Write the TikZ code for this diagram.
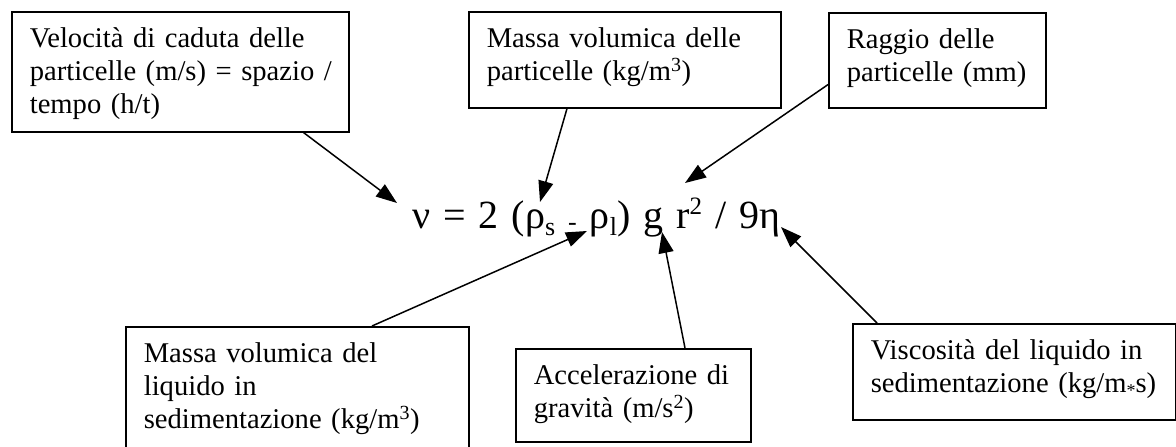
\documentclass[tikz,border=0pt]{standalone}
\usepackage{fontspec}
\setmainfont{Liberation Serif}
\usetikzlibrary{arrows.meta}

\newcommand{\lowtxt}[1]{\raisebox{-7pt}{\fontsize{26}{26}\selectfont #1}}
\newcommand{\hightxt}[1]{\raisebox{14pt}{\fontsize{25}{25}\selectfont #1}}
\newcommand{\eqfont}{\fontsize{40}{44}\selectfont\spaceskip 13pt\relax}

\begin{document}
\begin{tikzpicture}[
    x=1pt, y=-1pt,
    box/.style={rectangle, draw, line width=1.6pt, anchor=north west,
                inner xsep=18pt, inner ysep=0pt, align=left, text height=36pt,
                font=\fontsize{28.6}{33}\selectfont},
    formula/.style={inner sep=0pt, anchor=base west, font=\eqfont},
    arrow/.style={-{Triangle[length=21pt, width=15pt]}, line width=1.5pt}
  ]
    \useasboundingbox (0,0) rectangle (1176,447);
    \clip (0,0) rectangle (1176,447);

    \node[box, text width=301pt, text depth=84pt] (vel) at (11,11)
      {\mbox{Velocità di caduta delle}\\\mbox{particelle (m/s) = spazio /}\\\mbox{tempo (h/t)}};
    \node[box, text width=276pt, text depth=60pt] (mpart) at (468,11)
      {Massa volumica delle\\particelle (kg/m\textsuperscript{3})};
    \node[box, text width=181pt, text depth=59pt] (raggio) at (828,12)
      {\mbox{Raggio delle}\\\mbox{particelle (mm)}};
    \node[box, text width=307pt, text depth=92pt] (mliq) at (125,326)
      {Massa volumica del\\liquido in\\sedimentazione (kg/m\textsuperscript{3})};
    \node[box, text width=199pt, text depth=57pt] (acc) at (515,348)
      {\mbox{Accelerazione di}\\gravità (m/s\textsuperscript{2})};
    \node[box, text width=287pt, text depth=60pt] (visc) at (852,323)
      {\mbox{Viscosità del liquido in}\\\mbox{sedimentazione (kg/m\raisebox{-4pt}{\fontsize{18}{18}\selectfont *}s)}};

    \node[formula] (eq) at (412,228)
      {ν = 2 (ρ\lowtxt{s} \raisebox{-2pt}{\fontsize{26}{26}\selectfont -} ρ\lowtxt{l}) g r\hightxt{2} / 9η};

    \coordinate (tipvel)    at (397,203);
    \coordinate (tipmpart)  at (540,202);
    \coordinate (tipraggio) at (685,183);
    \coordinate (tipmliq)   at (587,231);
    \coordinate (tipacc)    at (662,232);
    \coordinate (tipvisc)   at (781,227);

    \draw[arrow] ([xshift=-46pt]vel.south east) -- (tipvel);
    \draw[arrow] ([xshift=99pt]mpart.south west) -- (tipmpart);
    \draw[arrow] ([yshift=24pt]raggio.south west) -- (tipraggio);
    \draw[arrow] ([xshift=247pt]mliq.north west) -- (tipmliq);
    \draw[arrow] ([xshift=170pt]acc.north west) -- (tipacc);
    \draw[arrow] ([xshift=25pt]visc.north west) -- (tipvisc);
  \end{tikzpicture}
\end{document}
